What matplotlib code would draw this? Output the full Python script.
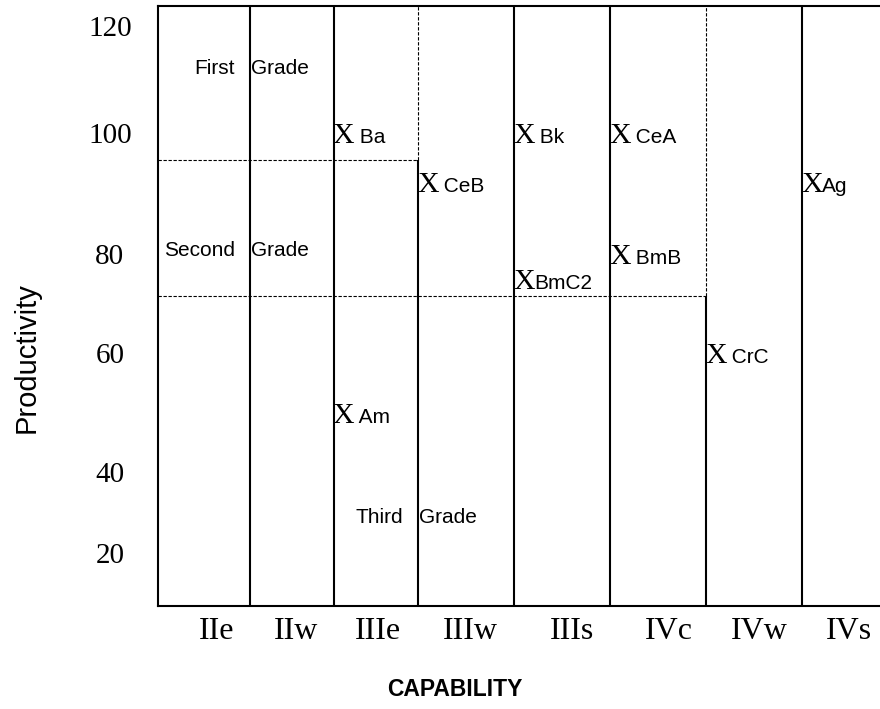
import numpy as np
import matplotlib
matplotlib.use("Agg")
import matplotlib.pyplot as plt

# ---- data -------------------------------------------------------------
capability = ["IIe", "IIw", "IIIe", "IIIw", "IIIs", "IVc", "IVw", "IVs"]
y_ticks = [20, 40, 60, 80, 100, 120]

soils = ["Ba", "CeB", "Bk", "BmC2", "CeA", "BmB", "Ag", "CrC", "Am"]
soil_class = ["IIIe", "IIIw", "IIIs", "IIIs", "IVc", "IVc", "IVs", "IVw", "IIIe"]
productivity = [100, 92, 100, 75, 100, 80, 92, 60, 50]
spaced = [True, True, True, False, True, True, False, True, True]

first_grade_min = 95.5     # productivity above which soils are First Grade
second_grade_min = 71.5    # productivity above which soils are Second Grade
first_grade_cols = 3       # IIe .. IIIe
second_grade_cols = 6      # IIe .. IVc

# ---- layout -----------------------------------------------------------
W, H, DPI = 880, 709, 100
Y_MIN, Y_MAX = 7, 124

# hand-drawn axis: position (px from frame bottom) of each reference value
y_anchor_val = [Y_MIN, 20, 40, 60, 80, 100, 120, Y_MAX]
y_anchor_pos = [0, 52.5, 133.5, 252.5, 351.5, 472.5, 579.2, 599.8]
# column edges (px from frame left) for the capability columns
x_anchor_val = list(range(len(capability) + 1))
x_anchor_pos = [0, 92.3, 176, 260.3, 356.3, 452.3, 548.3, 644.3, 740.3]
label_shift = [0.14, 0.05, 0.03, 0.05, 0.10, 0.11, 0.06, -0.01]

serif = "Liberation Serif"
sans = "Liberation Sans"

fig = plt.figure(figsize=(W / DPI, H / DPI), dpi=DPI)
ax = fig.add_axes([157.7 / W, (H - 605.5) / H, 740.3 / W, 599.8 / H])

ax.set_yscale("function", functions=(
    lambda v: np.interp(v, y_anchor_val, y_anchor_pos),
    lambda p: np.interp(p, y_anchor_pos, y_anchor_val)))
ax.set_xscale("function", functions=(
    lambda v: np.interp(v, x_anchor_val, x_anchor_pos),
    lambda p: np.interp(p, x_anchor_pos, x_anchor_val)))
ax.set_ylim(Y_MIN, Y_MAX)
ax.set_xlim(0, len(capability))

for s in ("left", "top", "bottom"):
    ax.spines[s].set_linewidth(1.5)
ax.spines["right"].set_visible(False)

# ---- column separators and grade boundaries ---------------------------
solid = dict(color="black", lw=1.5)
dash = dict(color="black", lw=0.8, linestyles=(0, (3, 1.5)))
for i in range(1, len(capability)):
    if i == first_grade_cols:
        ax.vlines(i, Y_MIN, first_grade_min, **solid)
        ax.vlines(i, first_grade_min, Y_MAX, **dash)
    elif i == second_grade_cols:
        ax.vlines(i, Y_MIN, second_grade_min, **solid)
        ax.vlines(i, second_grade_min, Y_MAX, **dash)
    else:
        ax.vlines(i, Y_MIN, Y_MAX, **solid)
ax.hlines(first_grade_min, 0, first_grade_cols, **dash)
ax.hlines(second_grade_min, 0, second_grade_cols, **dash)

# ---- grade captions ---------------------------------------------------
grades = [("First", 1, 111.1), ("Second", 1, 79.5), ("Third", 3, 27.5)]
for word, col, yv in grades:
    ax.annotate(word, (col, yv), xytext=(-11, 0), textcoords="offset points",
                ha="right", va="baseline", fontsize=15, family=sans)
    ax.annotate("Grade", (col, yv), xytext=(1.0, 0), textcoords="offset points",
                ha="left", va="baseline", fontsize=15, family=sans)

# ---- soil marks -------------------------------------------------------
for name, cls, val, sp in zip(soils, soil_class, productivity, spaced):
    col = capability.index(cls)
    ax.annotate("X", (col, val), xytext=(-0.8, -7.4), textcoords="offset points",
                ha="left", va="baseline", fontsize=21.5, family=serif)
    ax.annotate((" " if sp else "") + name, (col, val),
                xytext=(14.6, -7.4), textcoords="offset points",
                ha="left", va="baseline", fontsize=15, family=sans)

# ---- ticks and labels -------------------------------------------------
ax.set_yticks(y_ticks)
ax.set_yticklabels([str(t) for t in y_ticks], fontsize=21, family=serif)
ax.tick_params(axis="y", length=0, pad=34.5)
for lab in ax.get_yticklabels():
    lab.set_horizontalalignment("center")

ax.set_xticks([i + 0.5 + d for i, d in enumerate(label_shift)])
ax.set_xticklabels(capability, fontsize=23, family=serif)
ax.tick_params(axis="x", length=0, pad=8)

ax.set_ylabel("Productivity", fontsize=21, family=sans)
ax.yaxis.set_label_coords(41 / W, 1 - 357.5 / H, transform=fig.transFigure)
fig.text(455 / W, 1 - 690 / H, "CAPABILITY", fontsize=16.5, family=sans,
         fontweight="bold", ha="center", va="center")

fig.savefig("out.png", dpi=DPI)
